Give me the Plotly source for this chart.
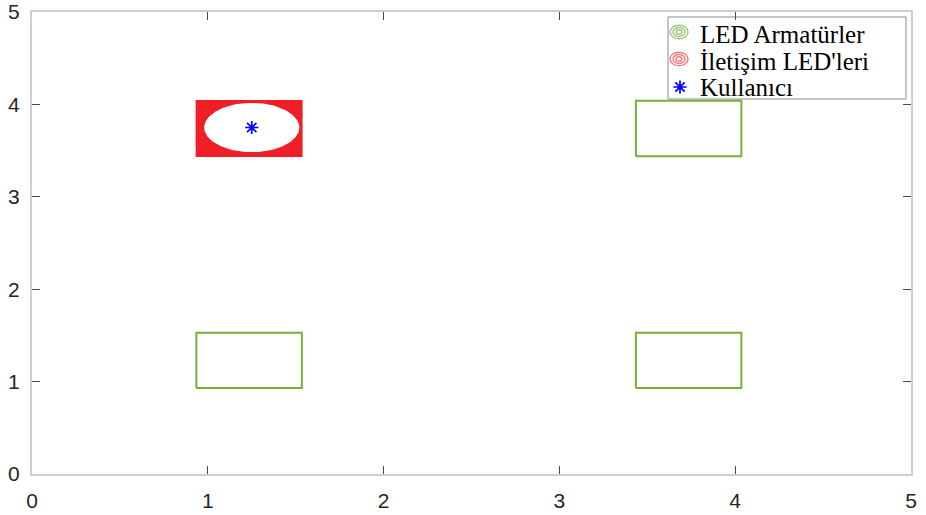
import numpy as np
import plotly.graph_objects as go

# LED fixture footprints (room coordinates, metres)
fixture_x0 = [0.935, 3.435, 0.935, 3.435]
fixture_x1 = [1.535, 4.035, 1.535, 4.035]
fixture_y0 = [3.44, 3.44, 0.93, 0.93]
fixture_y1 = [4.04, 4.04, 1.53, 1.53]

# index of the fixture acting as communication LED
comm_led = [0]

# user position and the radius of the cleared region around it
user_x = [1.25]
user_y = [3.75]
coverage_radius = [0.275]

legend_labels = ["LED Armatürler", "İletişim LED'leri", "Kullanıcı"]
axis_ticks = [0, 1, 2, 3, 4, 5]

GREEN = "#77b134"
RED = "#ee1f26"
BLUE = "#0000ff"

W, H = 926, 515
ML, MR, MT, MB = 32, 15, 12, 41
PW, PH = W - ML - MR, H - MT - MB


def px_x(p):
    return (p - ML) / PW


def px_y(p):
    return (H - MB - p) / PH


fig = go.Figure()

# plain fixtures (green outlines)
gx, gy = [], []
for i in range(len(fixture_x0)):
    if i in comm_led:
        continue
    x0, x1, y0, y1 = fixture_x0[i], fixture_x1[i], fixture_y0[i], fixture_y1[i]
    gx += [x0, x1, x1, x0, x0, None]
    gy += [y0, y0, y1, y1, y0, None]
fig.add_trace(go.Scatter(x=gx, y=gy, mode="lines",
                         line=dict(color=GREEN, width=2),
                         hoverinfo="skip", showlegend=False))

# communication LED: filled footprint with the user's cleared disc cut out
for i in comm_led:
    x0, x1, y0, y1 = fixture_x0[i], fixture_x1[i], fixture_y0[i], fixture_y1[i]
    cx, cy, r = user_x[0], user_y[0], coverage_radius[0]
    t = np.linspace(0, -2 * np.pi, 181)
    rx = [x1, x1, x0, x0, x1, x1]
    ry = [cy, y1, y1, y0, y0, cy]
    rx += list(cx + r * np.cos(t)) + [x1]
    ry += list(cy + r * np.sin(t)) + [cy]
    fig.add_trace(go.Scatter(x=rx, y=ry, mode="lines", fill="toself",
                             fillcolor=RED, line=dict(color=RED, width=1.5),
                             hoverinfo="skip", showlegend=False))

star = dict(symbol="asterisk-open", size=11, color=BLUE,
            line=dict(color=BLUE, width=1.7))

# user
fig.add_trace(go.Scatter(x=user_x, y=user_y, mode="markers", marker=star,
                         showlegend=False))

# legend box
lx0, lx1, ly0, ly1 = 668, 906, 17, 99
shapes = [dict(type="rect", xref="paper", yref="paper",
               x0=px_x(lx0), x1=px_x(lx1), y0=px_y(ly1), y1=px_y(ly0),
               line=dict(color="#8c8c8c", width=1), fillcolor="white",
               layer="below")]

row_y = [33, 60, 87]
icon_cx = 679
ring_colors = ["#9cc97a", "#f47a7e"]
for k, col in enumerate(ring_colors):
    cy = row_y[k] - 1
    for hw, hh in [(9, 6.8), (6, 4.5), (3, 2.2)]:
        shapes.append(dict(type="circle", xref="paper", yref="paper",
                           x0=px_x(icon_cx - hw), x1=px_x(icon_cx + hw),
                           y0=px_y(cy + hh), y1=px_y(cy - hh),
                           line=dict(color=col, width=1.4), layer="above"))

annotations = []
for k, lab in enumerate(legend_labels):
    annotations.append(dict(x=px_x(698), y=px_y(row_y[k] + 1), xref="paper",
                            yref="paper", text=lab, showarrow=False,
                            xanchor="left", yanchor="middle",
                            font=dict(family="Liberation Serif", size=25,
                                      color="#000000")))

# legend star on an overlay axis spanning the plot area
fig.add_trace(go.Scatter(x=[px_x(680)], y=[px_y(87)], xaxis="x2", yaxis="y2",
                         mode="markers", marker=star,
                         hoverinfo="skip", showlegend=False))

axis_common = dict(range=[0, 5], tickvals=axis_ticks,
                   ticktext=[str(v) for v in axis_ticks],
                   ticks="inside", ticklen=8, tickwidth=1, tickcolor="#4a4a4a",
                   showline=True, linecolor="#cfcfcf", linewidth=2,
                   mirror="allticks", showgrid=False, zeroline=False,
                   automargin=False,
                   tickfont=dict(family="Liberation Sans", size=21,
                                 color="#262626"),
                   fixedrange=True)

fig.update_layout(
    width=W, height=H,
    margin=dict(l=ML, r=MR, t=MT, b=MB, autoexpand=False),
    paper_bgcolor="white", plot_bgcolor="white",
    xaxis=dict(**axis_common, ticklabelstandoff=7),
    yaxis=dict(**axis_common, ticklabelstandoff=6),
    xaxis2=dict(overlaying="x", range=[0, 1], visible=False),
    yaxis2=dict(overlaying="y", range=[0, 1], visible=False),
    shapes=shapes, annotations=annotations,
    showlegend=False,
)

fig.write_html("out.html")
